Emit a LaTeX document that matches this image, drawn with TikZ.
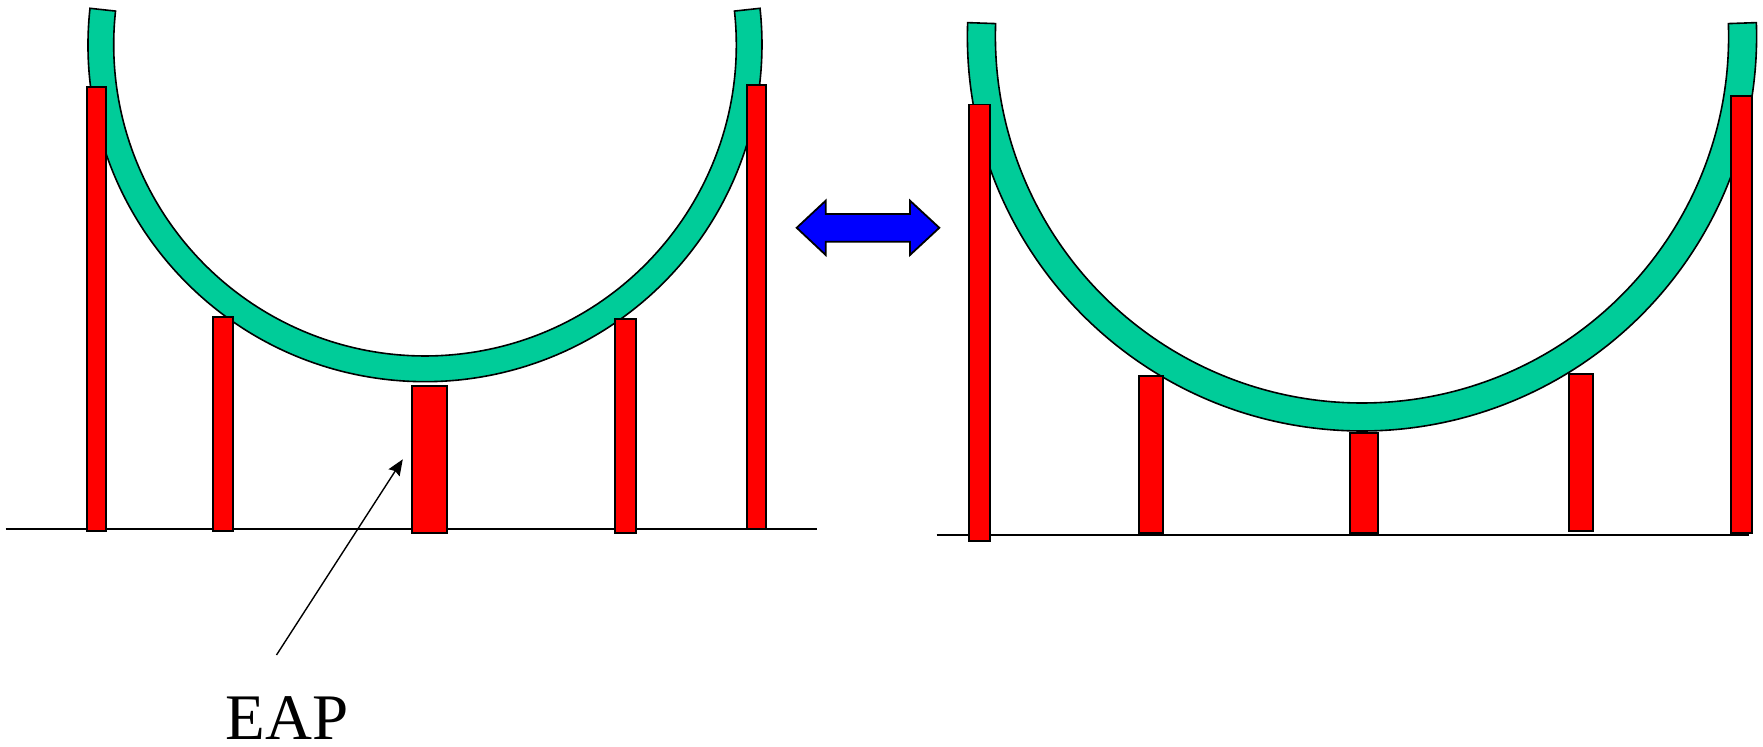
\documentclass[tikz,border=0pt]{standalone}
\usepackage{fontspec}
\setmainfont{Liberation Serif}
\usetikzlibrary{arrows.meta}
\definecolor{ringgreen}{RGB}{0,204,153}
\definecolor{barred}{RGB}{255,0,0}
\definecolor{arrowblue}{RGB}{0,0,255}
\tikzset{
  ring/.style={fill=ringgreen, draw=black, line width=0.8pt, line join=miter},
  bar/.style={fill=barred, draw=black, line width=0.9pt},
  ground/.style={draw=black, line width=0.9pt},
  dblarrow/.style={fill=arrowblue, draw=black, line width=0.9pt},
  pointer/.style={draw=black, line width=0.7pt, -{Stealth[length=8pt,width=6.5pt,inset=1pt]}},
  label/.style={font=\fontsize{32.5}{33}\selectfont, inner sep=0pt, text depth=0pt}
}
\begin{document}
\begin{tikzpicture}[x=0.5pt,y=-0.5pt]
\useasboundingbox (0,0) rectangle (1763,747);
% ---------- left figure ----------
\coordinate (cL) at (425,44.7);
\draw[ground] (5.5,529.3) -- (817,529.3);
\draw[ring] ([shift={(186.2:337)}]cL) arc[start angle=186.2, end angle=-6.2, radius=337]
  -- ([shift={(-6.2:311.3)}]cL) arc[start angle=-6.2, end angle=186.2, radius=311.3] -- cycle;
\draw[bar] (87,86.7) rectangle (106,531);
\draw[bar] (212.7,316.7) rectangle (233.3,531);
\draw[bar] (411.7,385.7) rectangle (446.7,532.7);
\draw[bar] (615,319) rectangle (635.7,533);
\draw[bar] (746.7,85) rectangle (766,529);
% EAP label and pointer
\node[label, anchor=base] (eap) at (287,740) {EAP};
\coordinate (eapfrom) at (276.5,655);
\coordinate (eapto) at (402.8,459.3);
\draw[pointer] (eapfrom) -- (eapto);
% ---------- double arrow ----------
\draw[dblarrow] (796.7,227.8) -- (825.7,200.7) -- (825.7,214) -- (910,214) -- (910,200.7)
  -- (939.3,227.8) -- (910,255) -- (910,241.7) -- (825.7,241.7) -- (825.7,255) -- cycle;
% ---------- right figure ----------
\coordinate (cR) at (1362,36.4);
\draw[ground] (936.6,534.8) -- (1748.5,534.8);
\draw[ring] ([shift={(182:394.6)}]cR) arc[start angle=182, end angle=-2, radius=394.6]
  -- ([shift={(-2:366.6)}]cR) arc[start angle=-2, end angle=182, radius=366.6] -- cycle;
\draw[bar] (969,104.6) rectangle (990,541);
\draw[bar] (1138.7,376) rectangle (1163.3,533);
\draw[bar] (1350,432.9) rectangle (1377.7,533);
\draw[bar] (1568.7,374.3) rectangle (1593.3,531.4);
\draw[bar] (1730.7,96.4) rectangle (1752,532.9);
\end{tikzpicture}
\end{document}
